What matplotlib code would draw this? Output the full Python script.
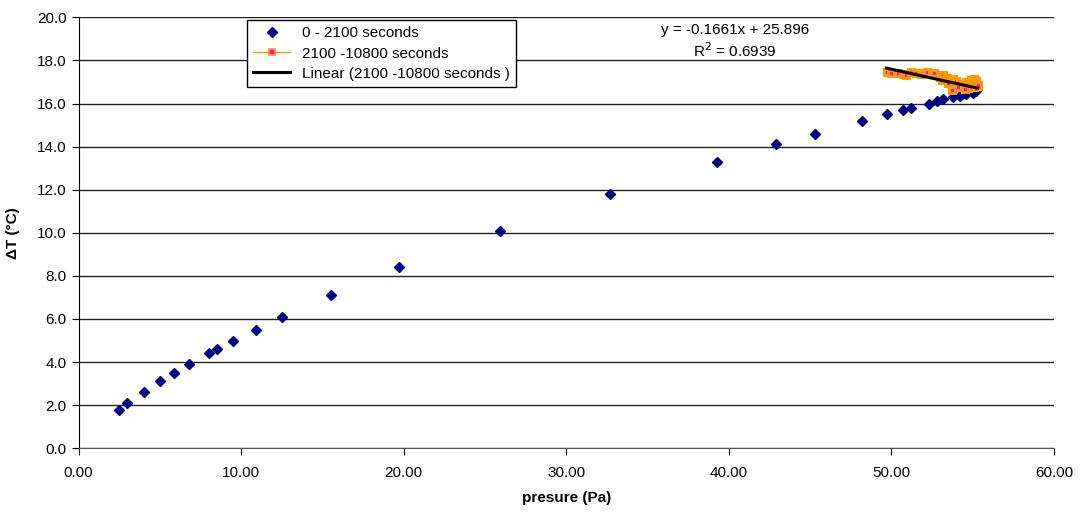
import numpy as np
import matplotlib.pyplot as plt

plt.rcParams['font.family'] = ['Liberation Sans', 'DejaVu Sans']

# series 1: 0 - 2100 seconds
p1 = [2.5, 3.0, 4.0, 5.0, 5.9, 6.8, 8.0, 8.5, 9.5, 10.9, 12.5, 15.5, 19.7, 25.9,
      32.7, 39.3, 42.9, 45.3, 48.2, 49.7, 50.7, 51.2, 52.3, 52.8, 53.2, 53.8,
      54.2, 54.6, 55.0, 55.2]
dt1 = [1.8, 2.1, 2.6, 3.1, 3.5, 3.9, 4.4, 4.6, 5.0, 5.5, 6.1, 7.1, 8.4, 10.1,
       11.8, 13.3, 14.1, 14.6, 15.2, 15.5, 15.7, 15.8, 16.0, 16.1, 16.2, 16.3,
       16.35, 16.45, 16.5, 16.6]

# series 2: 2100 - 10800 seconds
p2 = [49.7, 50.0, 50.4, 50.7, 50.9, 51.2, 51.5, 51.8, 52.0, 52.2, 52.5, 52.8,
      52.6, 53.0, 53.2, 53.4, 53.1, 53.6, 53.8, 53.5, 54.0, 54.2, 53.9, 54.4,
      54.6, 54.3, 54.8, 54.9, 55.1, 55.2, 55.0, 54.7, 54.1, 53.7, 55.3, 55.2,
      54.9, 54.5, 55.1, 55.3]
dt2 = [17.45, 17.4, 17.42, 17.35, 17.32, 17.48, 17.4, 17.38, 17.42, 17.48, 17.35, 17.32,
       17.4, 17.25, 17.3, 17.2, 17.1, 17.15, 17.14, 16.95, 17.05, 16.9, 16.8, 16.85,
       17.0, 16.75, 16.95, 17.09, 17.14, 17.05, 16.9, 16.7, 16.78, 16.63, 16.8, 16.95,
       16.8, 16.65, 16.75, 16.85]

# linear trendline of series 2
slope, intercept, r2 = -0.1661, 25.896, 0.6939

fig = plt.figure(figsize=(10.8, 5.12), dpi=100)
ax = fig.add_axes([78.5 / 1080, 1 - 448.3 / 512, (1054 - 78.5) / 1080, (448.3 - 17.3) / 512])

ax.plot(p1, dt1, linestyle='none', marker='D', markersize=5.5, color='#000080',
        label='0 - 2100 seconds', zorder=3)
ax.plot(p2, dt2, color='#FF9900', linewidth=2.0, marker='s', markersize=5,
        markerfacecolor='#FF00FF', markeredgecolor='#FF9900', markeredgewidth=2.2,
        label='2100 -10800 seconds', zorder=4)
xl = np.array([min(p2), max(p2)])
ax.plot(xl, slope * xl + intercept, color='black', linewidth=2.2,
        label='Linear (2100 -10800 seconds )', zorder=5)

ax.text(40.4, 19.4, f'y = {slope}x + {intercept}', ha='center', va='center', fontsize=11)
ax.text(40.4, 18.45, f'R$^2$ = {r2}', ha='center', va='center', fontsize=11)

ax.set_xlim(0, 60)
ax.set_ylim(0, 20)
ax.set_xticks(np.arange(0, 61, 10))
ax.set_xticklabels([f'{v:.2f}' for v in np.arange(0, 61, 10)])
ax.set_yticks(np.arange(0, 20.1, 2))
ax.set_yticklabels([f'{v:.1f}' for v in np.arange(0, 20.1, 2)])
ax.tick_params(labelsize=11, direction='out', length=5, color='black')
ax.tick_params(axis='x', pad=8)
ax.yaxis.grid(True, color='#222222', linewidth=1.0)
ax.set_axisbelow(True)
for s in ['top', 'right']:
    ax.spines[s].set_visible(False)
ax.spines['left'].set_color('black')
ax.spines['bottom'].set_color('#555555')

ax.set_xlabel('presure (Pa)', fontsize=11, fontweight='bold', labelpad=8)
ax.set_ylabel('ΔT (°C)', fontsize=11, fontweight='bold', labelpad=12)

leg = ax.legend(loc='upper left', bbox_to_anchor=(0.173, 0.993), borderaxespad=0,
                fontsize=11, fancybox=False, edgecolor='black', framealpha=1,
                borderpad=0.4, handlelength=2.4, labelspacing=0.4)
leg.get_frame().set_linewidth(1.0)
h = leg.get_lines()[1]
h.set_linewidth(1.0)
h.set_markeredgewidth(1.2)

fig.savefig('out.png', dpi=100)
